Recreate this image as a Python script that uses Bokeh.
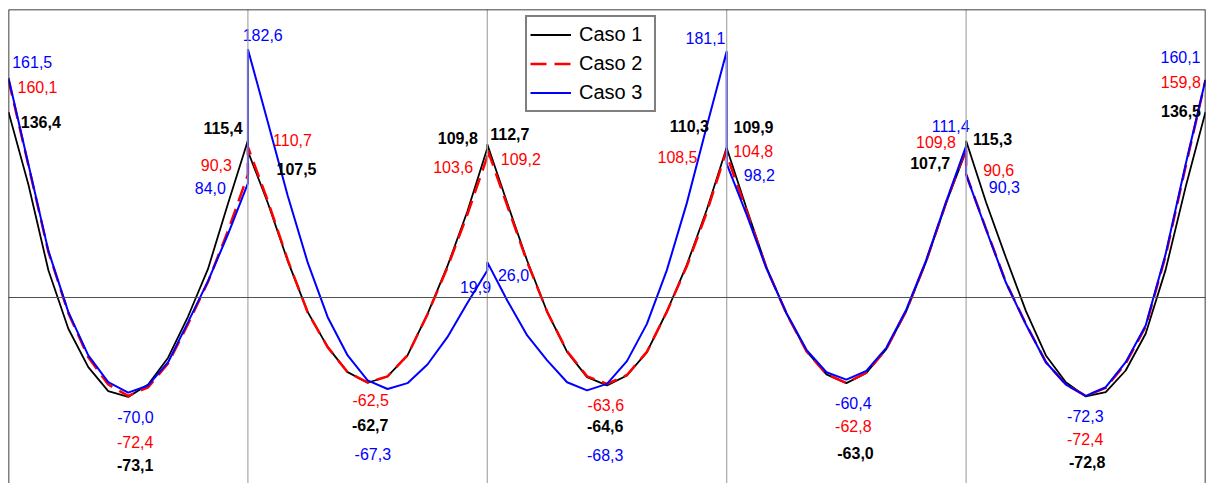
from bokeh.plotting import figure
from bokeh.models import Range1d, Span, Legend, LegendItem, ColumnDataSource
from bokeh.embed import file_html
from bokeh.resources import INLINE
from bokeh.core.properties import value

# ---------------- data (moments per span, 13 stations per span) ----------------
series_names = ["Caso 1", "Caso 2", "Caso 3"]

caso1 = [
    [136.4, 82.9, 20.0, -23.0, -51.2, -68.9, -73.1, -64.0, -44.3, -14.0, 21.0, 68.9, 115.4],
    [107.5, 69.5, 26.8, -10.8, -36.5, -54.9, -62.7, -58.1, -42.6, -12.3, 23.0, 63.2, 109.8],
    [112.7, 69.5, 27.0, -10.5, -40.0, -58.6, -64.6, -57.4, -40.2, -10.3, 24.0, 64.5, 110.3],
    [109.9, 65.2, 22.0, -12.0, -39.5, -56.5, -63.0, -55.5, -38.0, -10.0, 26.5, 69.5, 107.7],
    [115.3, 70.0, 29.2, -10.0, -42.6, -62.3, -72.8, -69.6, -53.7, -26.7, 20.3, 81.0, 136.5],
]
caso2 = [
    [160.1, 97.0, 33.5, -11.5, -44.0, -64.0, -72.4, -66.0, -48.5, -19.5, 11.5, 49.0, 90.3],
    [110.7, 71.0, 27.5, -11.0, -36.5, -55.0, -62.5, -58.0, -42.5, -12.5, 22.0, 61.0, 103.6],
    [109.2, 67.5, 26.0, -10.5, -39.5, -58.0, -63.6, -57.0, -40.0, -10.5, 23.0, 62.5, 108.5],
    [104.8, 63.5, 21.5, -12.0, -39.5, -56.5, -62.8, -55.3, -37.8, -9.8, 26.8, 69.8, 109.8],
    [90.6, 50.5, 11.0, -19.5, -47.5, -64.0, -72.4, -66.5, -48.5, -21.5, 30.5, 96.0, 159.8],
]
caso3 = [
    [161.5, 97.8, 34.3, -10.8, -42.6, -62.3, -70.0, -64.7, -47.6, -18.1, 12.0, 46.5, 84.0],
    [182.6, 128.9, 74.7, 25.6, -14.5, -42.6, -61.0, -67.3, -63.0, -49.3, -29.2, -4.0, 19.9],
    [26.0, -2.2, -27.9, -46.3, -62.3, -68.3, -63.5, -46.8, -19.4, 20.1, 69.4, 126.0, 181.1],
    [98.2, 61.0, 21.0, -11.5, -38.5, -55.0, -60.4, -54.0, -37.0, -9.0, 27.5, 70.5, 111.4],
    [90.3, 50.0, 10.8, -19.9, -47.6, -64.0, -72.3, -66.0, -47.6, -20.6, 31.9, 97.6, 160.1],
]
cases = [caso1, caso2, caso3]

# ---------------- styles ----------------
colors = ["black", "red", "blue"]
widths = [1.8, 2.5, 2.0]
dashes = ["solid", "16 8", "solid"]
font_styles = ["bold", "normal", "normal"]
FONT = "Liberation Sans"

# label pixel offsets: (span, where, dx, dy) per case
label_offsets = [
    [(0, "start", 32.3, 9.5), (0, "end", -24.9, -12.3), (0, "min", 7, 68.1),
     (1, "start", 48.6, 17.4), (1, "end", -29.5, -10.2), (1, "min", 2.6, 42.2),
     (2, "start", 22.5, -9.9), (2, "end", -37.4, -21.2), (2, "min", -1.8, 40.6),
     (3, "start", 26.8, -21), (3, "end", -35.9, 12), (3, "min", 9.1, 69.5),
     (4, "start", 26.4, -1.4), (4, "end", -24.5, -0.6), (4, "min", 1.4, 65.2)],
    [(0, "start", 29, 7.7), (0, "end", -31.6, -9.4), (0, "min", 7, 45.8),
     (1, "start", 44.6, -7.2), (1, "end", -34.1, 10.2), (1, "min", 3.1, 17.8),
     (2, "start", 33.5, 10.3), (2, "end", -49.2, 6.9), (2, "min", -1.2, 20.7),
     (3, "start", 26.5, -4), (3, "end", -30.1, -6), (3, "min", 6.9, 43.6),
     (4, "start", 32.6, -3.8), (4, "end", -24.7, 1.5), (4, "min", -0.6, 42.8)],
    [(0, "start", 23.7, -15.7), (0, "end", -37.6, 4.7), (0, "min", 7.3, 24.5),
     (1, "start", 14.8, -14.5), (1, "end", -11.8, 16.4), (1, "min", 5.2, 65.2),
     (2, "start", 26.2, 12.9), (2, "end", -21.2, -13.2), (2, "min", -1.8, 64.6),
     (3, "start", 32.6, 11.1), (3, "end", -15.4, -20.5), (3, "min", 6.9, 23.4),
     (4, "start", 38.2, 12.1), (4, "end", -25, -22.6), (4, "min", -0.5, 20.2)],
]

n_spans = len(caso1)
n_pts = len(caso1[0])

y_lo, y_hi = -136.8, 211.8
p = figure(width=1208, height=483, x_range=Range1d(0, n_spans), y_range=Range1d(y_lo, y_hi),
           output_backend="svg", toolbar_location=None,
           x_axis_location=None, y_axis_location=None,
           min_border_left=8, min_border_right=3, min_border_top=9, min_border_bottom=0)
p.xgrid.visible = False
p.ygrid.visible = False
p.outline_line_color = None
p.background_fill_color = "white"
p.border_fill_color = "white"

# support gridlines and zero line
for s in range(1, n_spans):
    p.add_layout(Span(location=s, dimension="height", line_color="#a8a8a8", line_width=1.2))
p.add_layout(Span(location=0, dimension="width", line_color="#505050", line_width=1.2))
# frame (top, left, right)
p.add_layout(Span(location=y_hi, dimension="width", line_color="black", line_width=1.5))
p.add_layout(Span(location=0, dimension="height", line_color="black", line_width=1.5))
p.add_layout(Span(location=n_spans, dimension="height", line_color="black", line_width=1.5))

xs = [s + k / (n_pts - 1) for s in range(n_spans) for k in range(n_pts)]

def fmt(v):
    return f"{v:.1f}".replace(".", ",")

renderers = []
for ci, case in enumerate(cases):
    ys = [v for span in case for v in span]
    r = p.line(xs, ys, line_color=colors[ci], line_width=widths[ci], line_dash=dashes[ci])
    renderers.append(r)

for ci, case in enumerate(cases):
    lx, ly, lt, ldx, ldy = [], [], [], [], []
    for (s, where, dx, dy) in label_offsets[ci]:
        span = case[s]
        if where == "start":
            x, v = s, span[0]
        elif where == "end":
            x, v = s + 1, span[-1]
        else:
            x, v = s + 0.5, min(span)
        lx.append(x); ly.append(v); lt.append(fmt(v)); ldx.append(dx); ldy.append(dy)
    src = ColumnDataSource(dict(x=lx, y=ly, t=lt, dx=ldx, dy=ldy))
    p.text(x="x", y="y", text="t", x_offset="dx", y_offset="dy", source=src,
           text_color=colors[ci], text_font=value(FONT), text_font_size="16px",
           text_font_style=font_styles[ci], text_align="center", text_baseline="middle")

legend = Legend(items=[LegendItem(label=series_names[i], renderers=[renderers[i]]) for i in range(3)],
                location=(517, 371), orientation="vertical",
                label_text_font=FONT, label_text_font_size="20px", label_text_color="black",
                glyph_width=41, glyph_height=29, label_height=29, label_width=72,
                label_standoff=8, padding=3, spacing=0, margin=0,
                border_line_color="black", border_line_width=2,
                background_fill_color="white", background_fill_alpha=1.0)
p.add_layout(legend)

open("out.html", "w").write(file_html(p, INLINE))
